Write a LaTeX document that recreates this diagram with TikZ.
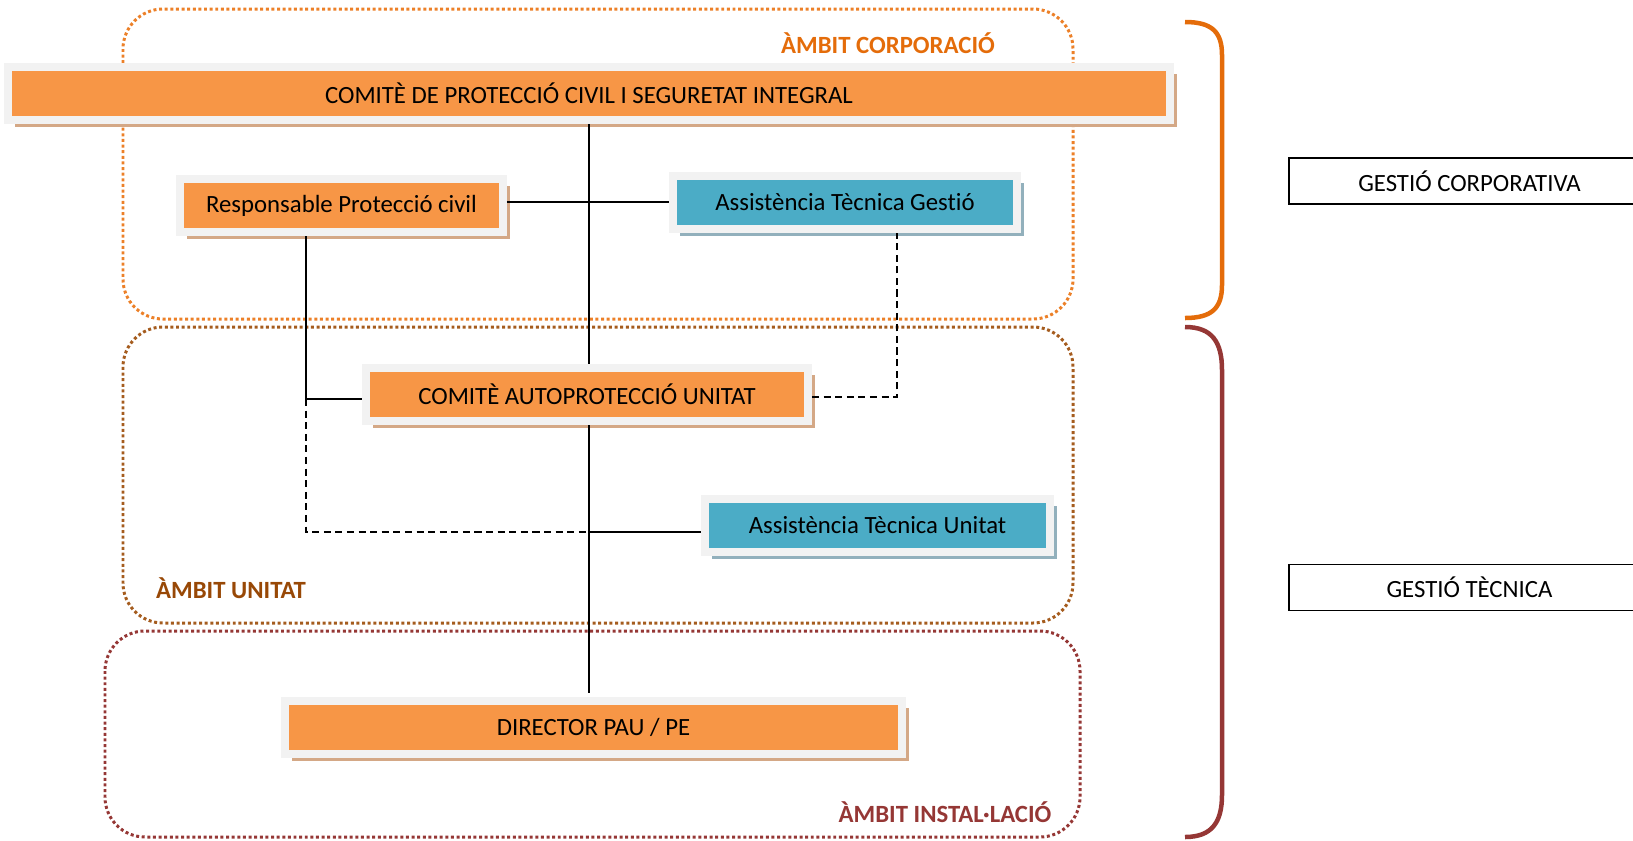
\documentclass[tikz,border=0pt]{standalone}
\usepackage{fontspec}
\setmainfont{Carlito}[Ligatures=NoCommon]
\usetikzlibrary{shadows}

\definecolor{orgfill}{RGB}{247,150,70}
\definecolor{tealfill}{RGB}{75,172,198}
\definecolor{framegray}{RGB}{242,242,242}
\definecolor{orgshadow}{RGB}{212,168,134}
\definecolor{tealshadow}{RGB}{146,176,188}
\definecolor{corpcol}{RGB}{228,108,10}
\definecolor{corpdot}{RGB}{236,128,40}
\definecolor{unitcol}{RGB}{152,72,6}
\definecolor{unitdot}{RGB}{165,92,30}
\definecolor{instcol}{RGB}{149,55,53}

\newcommand{\boxfont}{\fontsize{14.1}{17}\selectfont}

\tikzset{
  boxbase/.style={draw=framegray, line width=0.16cm, minimum height=1.06cm, inner sep=0pt, font=\boxfont},
  orgbox/.style={boxbase, fill=orgfill, drop shadow={shadow xshift=0.14cm, shadow yshift=-0.14cm, fill=orgshadow, opacity=1}},
  tealbox/.style={boxbase, fill=tealfill, drop shadow={shadow xshift=0.14cm, shadow yshift=-0.14cm, fill=tealshadow, opacity=1}},
  ambit/.style={line width=1.7pt, dash pattern=on 1.7pt off 1.5pt, rounded corners=0.8cm},
  ambitlabel/.style={font=\boxfont\bfseries},
  conn/.style={line width=0.7pt},
  dconn/.style={line width=1.1pt, dash pattern=on 4pt off 2.6pt},
  gestiobox/.style={draw, line width=1pt, minimum width=7.22cm, minimum height=0.92cm, font=\boxfont},
  brace/.style={line width=0.09cm}
}

\begin{document}
\begin{tikzpicture}[x=0.02cm, y=-0.02cm]
\useasboundingbox (0,0) rectangle (1633,840);
% ambits
\draw[ambit, corpdot] (123,9) rectangle (1073,319);
\draw[ambit, unitdot] (123,327) rectangle (1073,623);
\draw[ambit, instcol] (105,631) rectangle (1080,837);
\node[ambitlabel, text=corpcol] (corplabel) at (888,43) {ÀMBIT CORPORACIÓ};
\node[ambitlabel, text=unitcol] (unitlabel) at (231,588) {ÀMBIT UNITAT};
\node[ambitlabel, text=instcol] (instlabel) at (945,812) {ÀMBIT INSTAL·LACIÓ};

% organs
\node[orgbox, minimum width=23.25cm] (comite) at (589,93.5) {COMITÈ DE PROTECCIÓ CIVIL I SEGURETAT INTEGRAL};
\node[orgbox, minimum width=6.46cm] (resp) at (341.5,205.5) {Responsable Protecció civil};
\node[tealbox, minimum width=6.88cm] (gestio) at (845,202) {Assistència Tècnica Gestió};
\node[orgbox, minimum width=8.84cm] (autoprot) at (587,394.5) {COMITÈ AUTOPROTECCIÓ UNITAT};
\node[tealbox, minimum width=6.9cm] (assunit) at (877.5,525.5) {Assistència Tècnica Unitat};
\node[orgbox, minimum width=12.34cm] (director) at (593.5,727) {DIRECTOR PAU / PE};

\coordinate (rl) at (306,399);
\coordinate (ul) at (306,532);
\coordinate (gl) at (897,397);

% connectors
\draw[conn] (comite.south) -- (comite.south |- autoprot.north);
\draw[conn, shorten >=0.08cm] (autoprot.south -| comite.south) -- (director.north -| comite.south);
\draw[conn] (gestio.west -| resp.east) -- (gestio.west);
\draw[conn] (resp.south -| rl) -- (rl) -- (rl -| autoprot.west);
\draw[dconn] (rl) -- (ul) -- (ul -| comite.south);
\draw[conn] (ul -| comite.south) -- (ul -| assunit.west);
\draw[dconn] (autoprot.east |- gl) -- (gl) -- (gestio.south -| gl);

% gestio
\draw[brace, corpcol] (1185,22) .. controls (1212,22) and (1222,32) .. (1222,55) -- (1222,285) .. controls (1222,308) and (1212,318) .. (1185,318);
\draw[brace, instcol] (1185,327) .. controls (1212,327) and (1222,342) .. (1222,370) -- (1222,795) .. controls (1222,822) and (1212,837) .. (1185,837);
\node[gestiobox] (gcorp) at (1469.5,181) {GESTIÓ CORPORATIVA};
\node[gestiobox] (gtec) at (1469.5,587.5) {GESTIÓ TÈCNICA};
\end{tikzpicture}
\end{document}
